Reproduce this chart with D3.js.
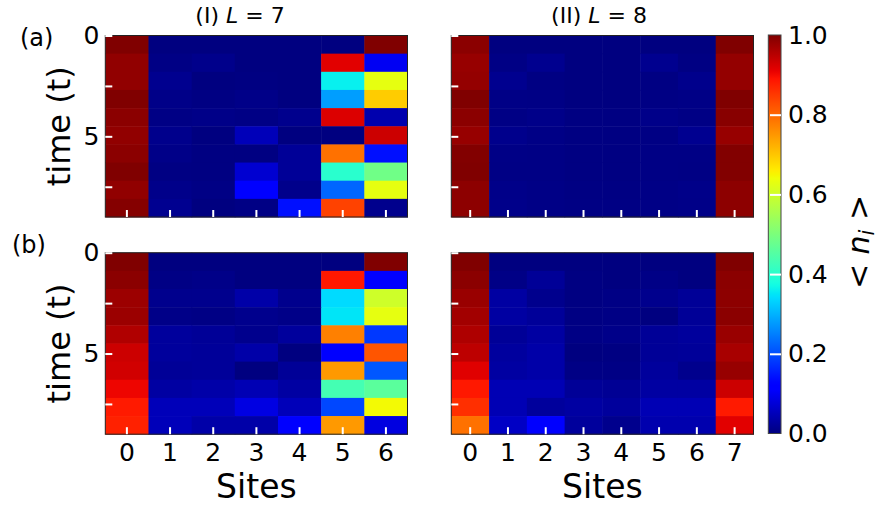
<!DOCTYPE html>
<html lang="en">
<head>
    <meta charset="UTF-8">
    <title>Occupation dynamics heatmaps</title>
    <script src="https://d3js.org/d3.v7.min.js"></script>
    <style>
        body { margin: 0; background: #fff; }
        text { font-family: "DejaVu Sans", sans-serif; fill: #000; }
    </style>
</head>
<body>
    <script>
        // 数据：每行一个时间步 (t = 0 .. 9)，每列一个格点
        var sitesL7 = [0, 1, 2, 3, 4, 5, 6];
        var sitesL8 = [0, 1, 2, 3, 4, 5, 6, 7];
        var tMax = 9;
        var timeTicks = [0, 2.5, 5, 7.5];
        var timeLabels = [0, 5];
        var cbarTicks = [0, 0.2, 0.4, 0.6, 0.8, 1.0];

        var nA7 = [
            [1.000, 0.000, 0.000, 0.000, 0.000, 0.000, 1.000],
            [0.985, 0.005, 0.010, 0.000, 0.000, 0.915, 0.100],
            [0.985, 0.013, 0.000, 0.002, 0.000, 0.360, 0.630],
            [1.000, 0.007, 0.003, 0.007, 0.000, 0.280, 0.694],
            [0.990, 0.005, 0.007, 0.005, 0.012, 0.920, 0.040],
            [0.985, 0.011, 0.000, 0.050, 0.000, 0.000, 0.934],
            [0.990, 0.007, 0.002, 0.002, 0.020, 0.790, 0.140],
            [1.000, 0.003, 0.002, 0.070, 0.020, 0.400, 0.486],
            [0.985, 0.009, 0.005, 0.110, 0.010, 0.225, 0.630],
            [0.995, 0.014, 0.000, 0.005, 0.140, 0.840, 0.012]
        ];
        var nB7 = [
            [1.000, 0.000, 0.000, 0.000, 0.000, 0.000, 1.000],
            [0.990, 0.005, 0.007, 0.000, 0.000, 0.885, 0.110],
            [0.975, 0.012, 0.012, 0.035, 0.012, 0.340, 0.600],
            [0.976, 0.007, 0.005, 0.012, 0.007, 0.350, 0.630],
            [0.958, 0.025, 0.020, 0.012, 0.025, 0.775, 0.180],
            [0.934, 0.025, 0.022, 0.035, 0.000, 0.110, 0.820],
            [0.930, 0.020, 0.022, 0.000, 0.020, 0.748, 0.210],
            [0.905, 0.030, 0.035, 0.045, 0.030, 0.433, 0.460],
            [0.883, 0.050, 0.050, 0.085, 0.050, 0.195, 0.645],
            [0.875, 0.050, 0.035, 0.035, 0.110, 0.748, 0.083]
        ];
        var nA8 = [
            [0.990, 0.000, 0.000, 0.000, 0.000, 0.000, 0.000, 1.000],
            [0.980, 0.005, 0.013, 0.000, 0.000, 0.013, 0.003, 0.982],
            [0.982, 0.013, 0.003, 0.000, 0.000, 0.003, 0.011, 0.982],
            [1.000, 0.006, 0.005, 0.000, 0.000, 0.004, 0.006, 1.000],
            [0.990, 0.005, 0.008, 0.002, 0.002, 0.008, 0.005, 0.993],
            [0.980, 0.011, 0.006, 0.002, 0.002, 0.004, 0.014, 0.980],
            [0.998, 0.006, 0.005, 0.002, 0.002, 0.005, 0.005, 0.998],
            [1.000, 0.005, 0.005, 0.002, 0.002, 0.005, 0.004, 0.998],
            [0.988, 0.008, 0.006, 0.003, 0.003, 0.006, 0.008, 0.988],
            [0.988, 0.009, 0.006, 0.004, 0.004, 0.006, 0.007, 0.988]
        ];
        var nB8 = [
            [1.000, 0.000, 0.000, 0.000, 0.000, 0.000, 0.000, 1.000],
            [0.990, 0.006, 0.020, 0.002, 0.000, 0.006, 0.000, 0.990],
            [0.978, 0.030, 0.012, 0.002, 0.005, 0.012, 0.020, 0.988],
            [0.970, 0.030, 0.022, 0.003, 0.005, 0.000, 0.020, 0.990],
            [0.960, 0.020, 0.030, 0.005, 0.008, 0.020, 0.025, 0.978],
            [0.947, 0.026, 0.035, 0.000, 0.002, 0.020, 0.022, 0.965],
            [0.917, 0.030, 0.035, 0.005, 0.005, 0.025, 0.012, 0.980],
            [0.885, 0.045, 0.045, 0.020, 0.018, 0.030, 0.030, 0.934],
            [0.860, 0.045, 0.025, 0.030, 0.025, 0.045, 0.045, 0.883],
            [0.790, 0.060, 0.110, 0.025, 0.012, 0.040, 0.040, 0.915]
        ];

        // matplotlib "jet" 色表
        var jr = d3.scaleLinear().domain([0, 0.35, 0.66, 0.89, 1]).range([0, 0, 1, 1, 0.5]).clamp(true);
        var jg = d3.scaleLinear().domain([0, 0.125, 0.375, 0.64, 0.91, 1]).range([0, 0, 1, 1, 0, 0]).clamp(true);
        var jb = d3.scaleLinear().domain([0, 0.11, 0.34, 0.65, 1]).range([0.5, 1, 1, 0, 0]).clamp(true);
        function jet(v) {
            return d3.rgb(jr(v) * 255, jg(v) * 255, jb(v) * 255).toString();
        }

        var width = 881, height = 510;
        var svg = d3.select("body").append("svg")
            .attr("width", width)
            .attr("height", height);

        var colX = [105.3, 451.3], colW = 302.2;
        var rowY = [35.5, 252.7], rowH = 181.5;

        var panels = [
            { data: nA7, sites: sitesL7, c: 0, r: 0 },
            { data: nA8, sites: sitesL8, c: 1, r: 0 },
            { data: nB7, sites: sitesL7, c: 0, r: 1 },
            { data: nB8, sites: sitesL8, c: 1, r: 1 }
        ];

        panels.forEach(function(p) {
            var g = svg.append("g")
                .attr("transform", "translate(" + colX[p.c] + "," + rowY[p.r] + ")");

            var x = d3.scaleBand().domain(p.sites).range([0, colW]);
            var y = d3.scaleLinear().domain([0, tMax]).range([0, rowH]);
            var dt = tMax / p.data.length;

            // 格子
            p.data.forEach(function(row, i) {
                g.selectAll(null)
                    .data(row)
                    .enter().append("rect")
                    .attr("x", function(d, j) { return x(p.sites[j]); })
                    .attr("y", y(i * dt))
                    .attr("width", x.bandwidth() + 0.5)
                    .attr("height", y(dt) - y(0) + 0.5)
                    .attr("fill", function(d) { return jet(d); });
            });

            // 边框
            g.append("rect")
                .attr("width", colW).attr("height", rowH)
                .attr("fill", "none").attr("stroke", "#222").attr("stroke-width", 1);

            // 左轴
            var yAxis = d3.axisLeft(y)
                .tickValues(timeTicks)
                .tickSizeInner(-7).tickSizeOuter(0).tickPadding(6)
                .tickFormat(function(d) { return (p.c === 0 && timeLabels.indexOf(d) >= 0) ? d : ""; });
            var ya = g.append("g").call(yAxis);
            ya.select(".domain").remove();
            ya.selectAll("line").attr("stroke", "#fff").attr("stroke-width", 2);
            ya.selectAll("text").style("font-size", "25px").attr("fill", "#000");

            // 底轴
            var xAxis = d3.axisBottom(x)
                .tickSizeInner(-7).tickSizeOuter(0).tickPadding(9.5)
                .tickFormat(function(d) { return p.r === 1 ? d : ""; });
            var xa = g.append("g").attr("transform", "translate(0," + rowH + ")").call(xAxis);
            xa.select(".domain").remove();
            xa.selectAll("line").attr("stroke", "#fff").attr("stroke-width", 2);
            xa.selectAll("text").style("font-size", "25px").attr("fill", "#000");

            if (p.c === 0) {
                svg.append("text")
                    .attr("transform", "translate(70," + (rowY[p.r] + rowH / 2) + ") rotate(-90)")
                    .attr("text-anchor", "middle")
                    .style("font-size", "32px")
                    .text("time (t)");
            }
            if (p.r === 1) {
                svg.append("text")
                    .attr("x", colX[p.c] + colW / 2)
                    .attr("y", 498)
                    .attr("text-anchor", "middle")
                    .style("font-size", "33px")
                    .text("Sites");
            }
        });

        // 子图标签
        svg.append("text").attr("x", 20).attr("y", 46).style("font-size", "24px").text("(a)");
        svg.append("text").attr("x", 12).attr("y", 253).style("font-size", "24px").text("(b)");

        // 标题
        var titles = [
            { pre: "(I) ", L: "7", cx: 240 },
            { pre: "(II) ", L: "8", cx: 599 }
        ];
        titles.forEach(function(t) {
            var tt = svg.append("text")
                .attr("x", t.cx).attr("y", 23)
                .attr("text-anchor", "middle")
                .style("font-size", "22px");
            tt.append("tspan").text(t.pre);
            tt.append("tspan").style("font-style", "italic").text("L");
            tt.append("tspan").text(" = " + t.L);
        });

        // 色条
        var cbX = 768.3, cbW = 12.7, cbTop = 35, cbBot = 433.5;
        var defs = svg.append("defs");
        var grad = defs.append("linearGradient")
            .attr("id", "jetGrad")
            .attr("x1", 0).attr("y1", 1).attr("x2", 0).attr("y2", 0);
        grad.selectAll("stop")
            .data(d3.range(0, 1.0001, 0.01))
            .enter().append("stop")
            .attr("offset", function(d) { return d; })
            .attr("stop-color", function(d) { return jet(d); });

        svg.append("rect")
            .attr("x", cbX).attr("y", cbTop)
            .attr("width", cbW).attr("height", cbBot - cbTop)
            .attr("fill", "url(#jetGrad)")
            .attr("stroke", "#444").attr("stroke-width", 1);

        var cy = d3.scaleLinear().domain([0, 1]).range([cbBot, cbTop]);
        var cAxis = d3.axisRight(cy)
            .tickValues(cbarTicks)
            .tickSizeInner(-11).tickSizeOuter(0).tickPadding(7)
            .tickFormat(d3.format(".1f"));
        var ca = svg.append("g").attr("transform", "translate(" + (cbX + cbW) + ",0)").call(cAxis);
        ca.select(".domain").remove();
        ca.selectAll("line")
            .attr("stroke", function(d) { return (d === 0 || d === 1) ? "none" : "#fff"; })
            .attr("stroke-width", 2);
        ca.selectAll("text").style("font-size", "25px").attr("fill", "#000");

        var cl = svg.append("text")
            .attr("transform", "translate(869,242) rotate(-90)")
            .attr("text-anchor", "middle")
            .style("font-size", "30px");
        cl.append("tspan").text("< ");
        cl.append("tspan").style("font-style", "italic").text("n");
        cl.append("tspan").style("font-style", "italic").style("font-size", "21px")
            .attr("dy", 5).text("i");
        cl.append("tspan").attr("dy", -5).text(" >");
    </script>
</body>
</html>
